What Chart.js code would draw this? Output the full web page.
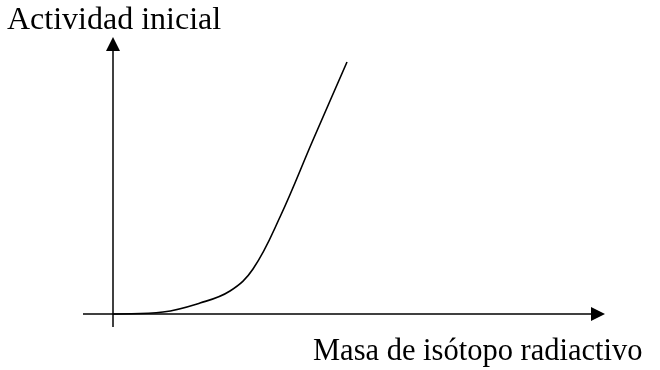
<!DOCTYPE html>
<html>
<head>
<meta charset="utf-8">
<script src="https://cdn.jsdelivr.net/npm/chart.js@4.4.1/dist/chart.umd.min.js"></script>
<style>
    html, body { margin: 0; padding: 0; background: #fff; }
    #wrap { position: relative; width: 660px; height: 370px; }
    .label {
        position: absolute;
        font-family: "Liberation Serif", "Times New Roman", serif;
        line-height: 30px;
        color: #000;
        white-space: nowrap;
    }
    #yLabel { left: 7px; top: 3px; font-size: 32px; }
    #xLabel { left: 313px; top: 335px; font-size: 30.5px; }
</style>
</head>
<body>
<div id="wrap">
    <canvas id="chart" width="660" height="370"></canvas>
    <div class="label" id="yLabel">Actividad inicial</div>
    <div class="label" id="xLabel">Masa de isótopo radiactivo</div>
</div>
<script>
// Curve: mass of isotope vs. initial activity
const masa = [0, 50, 87, 117, 140, 167, 200, 234];
const actividad = [0, 2, 11, 23, 45, 97, 174, 252];

// Axis extents (arrow tips) in data units
const xAxisMin = -30;
const xAxisMax = 492;
const yAxisMin = -13;
const yAxisMax = 277;

// Draws the two axis lines crossing at the origin, with arrowheads
const axesPlugin = {
    id: 'arrowAxes',
    beforeDatasetsDraw(chart) {
        const c = chart.ctx;
        const xs = chart.scales.x;
        const ys = chart.scales.y;
        const x0 = xs.getPixelForValue(0);
        const y0 = ys.getPixelForValue(0);
        const xEnd = xs.getPixelForValue(xAxisMax);
        const yEnd = ys.getPixelForValue(yAxisMax);

        c.save();
        c.strokeStyle = '#000';
        c.fillStyle = '#000';
        c.lineWidth = 1.5;

        // x axis
        c.beginPath();
        c.moveTo(xs.getPixelForValue(xAxisMin), y0);
        c.lineTo(xEnd - 10, y0);
        c.stroke();
        c.beginPath();
        c.moveTo(xEnd, y0);
        c.lineTo(xEnd - 14, y0 - 7);
        c.lineTo(xEnd - 14, y0 + 7);
        c.closePath();
        c.fill();

        // y axis
        c.beginPath();
        c.moveTo(x0, ys.getPixelForValue(yAxisMin));
        c.lineTo(x0, yEnd + 10);
        c.stroke();
        c.beginPath();
        c.moveTo(x0, yEnd);
        c.lineTo(x0 - 7, yEnd + 14);
        c.lineTo(x0 + 7, yEnd + 14);
        c.closePath();
        c.fill();
        c.restore();
    }
};

const ctx = document.getElementById('chart').getContext('2d');
const chart = new Chart(ctx, {
    type: 'line',
    data: {
        datasets: [{
            data: masa.map((m, i) => ({ x: m, y: actividad[i] })),
            borderColor: '#000',
            borderWidth: 1.6,
            pointRadius: 0,
            tension: 0.4,
            fill: false,
            clip: false
        }]
    },
    options: {
        responsive: false,
        animation: false,
        layout: {
            padding: { left: 83, right: 55, top: 37, bottom: 43 }
        },
        scales: {
            x: { type: 'linear', min: xAxisMin, max: xAxisMax, display: false },
            y: { type: 'linear', min: yAxisMin, max: yAxisMax, display: false }
        },
        plugins: {
            legend: { display: false },
            tooltip: { enabled: false }
        }
    },
    plugins: [axesPlugin]
});
</script>
</body>
</html>
